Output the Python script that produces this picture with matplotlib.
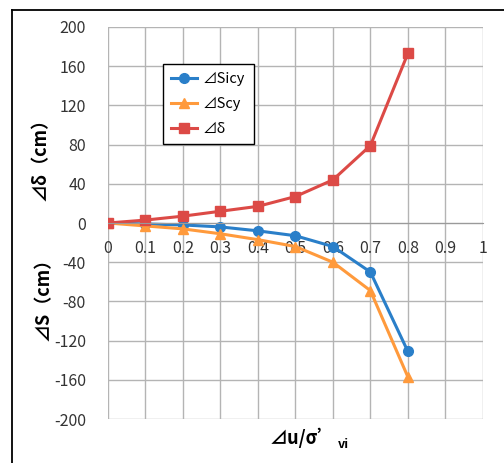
import matplotlib.pyplot as plt
from matplotlib.lines import Line2D

plt.rcParams['font.family'] = ['Noto Sans CJK SC', 'DejaVu Sans']
plt.rcParams['axes.unicode_minus'] = False

# 数据
x = [0, 0.1, 0.2, 0.3, 0.4, 0.5, 0.6, 0.7, 0.8]
s_icy = [0, -1, -2, -4, -8, -13, -24, -50, -131]
s_cy = [0, -3, -6, -11, -17, -24, -40, -69, -157]
delta = [0, 3, 7, 12, 17, 27, 44, 79, 173]
xticks = [0, 0.1, 0.2, 0.3, 0.4, 0.5, 0.6, 0.7, 0.8, 0.9, 1.0]
xtick_labels = ['0', '0.1', '0.2', '0.3', '0.4', '0.5', '0.6', '0.7', '0.8', '0.9', '1']
yticks = [-200, -160, -120, -80, -40, 0, 40, 80, 120, 160, 200]

fig = plt.figure(figsize=(5.04, 4.63), dpi=100)
ax = fig.add_axes([0.2143, 0.095, 0.7437, 0.8467])

ax.plot(x, s_icy, '-o', color='#2a7fc9', lw=2.2, ms=7, label='⊿Sicy')
ax.plot(x, s_cy, '-^', color='#ff9a3c', lw=2.2, ms=7, label='⊿Scy')
ax.plot(x, delta, '-s', color='#dc4a46', lw=2.2, ms=7, label='⊿δ')

ax.set_xlim(0, 1.0)
ax.set_ylim(-200, 200)
ax.set_xticks(xticks)
ax.set_xticklabels(xtick_labels)
ax.set_yticks(yticks)
ax.grid(True, color='#b4b4b4', lw=1)
ax.set_axisbelow(True)

for side in ['top', 'right', 'left']:
    ax.spines[side].set_visible(False)
ax.spines['bottom'].set_position(('data', 0))
ax.spines['bottom'].set_color('#9a9a9a')
ax.tick_params(axis='x', length=0, pad=12, labelsize=11.5, colors='#333333')
ax.tick_params(axis='y', length=0, pad=16, labelsize=11.5, colors='#333333')

# 图例
ax.legend(loc='upper left', bbox_to_anchor=(163 / 504, 1 - 64 / 463),
          bbox_transform=fig.transFigure, borderaxespad=0, fontsize=10.5,
          fancybox=False, edgecolor='black', framealpha=1,
          handlelength=1.8, handletextpad=0.4, labelspacing=0.75, borderpad=0.55)

# 坐标轴标题
fig.text(40 / 504, 1 - 155 / 463, '⊿δ（cm）', rotation=90, ha='center', va='center',
         fontsize=13, fontweight='bold')
fig.text(43 / 504, 1 - 295 / 463, '⊿S（cm）', rotation=90, ha='center', va='center',
         fontsize=13, fontweight='bold')
fig.text(336 / 504, 1 - 438 / 463, '⊿u/σ’', ha='right', va='center',
         fontsize=13, fontweight='bold')
fig.text(338 / 504, 1 - 445 / 463, 'vi', ha='left', va='center',
         fontsize=9, fontweight='bold')

# 外框
fig.add_artist(Line2D([12 / 504, 12 / 504], [0, 1 - 10 / 463], color='black', lw=1.3,
                      transform=fig.transFigure))
fig.add_artist(Line2D([12 / 504, 1], [1 - 10 / 463, 1 - 10 / 463], color='black', lw=1.3,
                      transform=fig.transFigure))

fig.savefig('out.png', dpi=100)
